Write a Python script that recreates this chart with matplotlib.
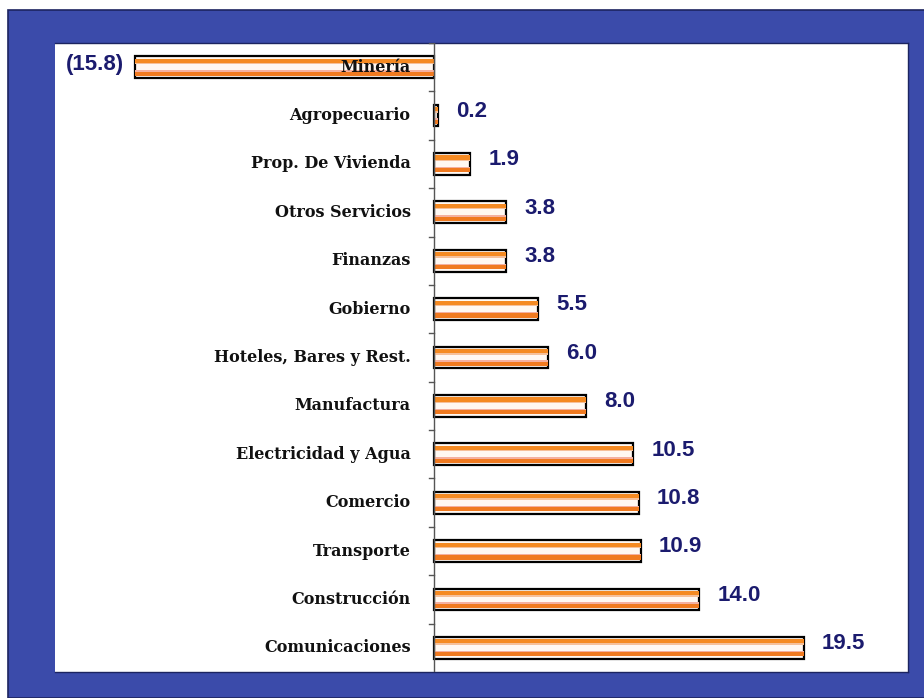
import matplotlib
matplotlib.use("Agg")
import matplotlib.pyplot as plt
from matplotlib.patches import Rectangle

# sector growth (%), top to bottom as drawn
sectors = ["Minería", "Agropecuario", "Prop. De Vivienda", "Otros Servicios",
           "Finanzas", "Gobierno", "Hoteles, Bares y Rest.", "Manufactura",
           "Electricidad y Agua", "Comercio", "Transporte", "Construcción",
           "Comunicaciones"]
values = [-15.8, 0.2, 1.9, 3.8, 3.8, 5.5, 6.0, 8.0, 10.5, 10.8, 10.9, 14.0, 19.5]

W, H = 924, 698
fig = plt.figure(figsize=(W / 100, H / 100), dpi=100)
fig.patch.set_facecolor("white")

# blue frame
fig.patches.append(Rectangle((8 / W, 0), 1, (H - 10) / H, transform=fig.transFigure,
                             facecolor="#3B4BAA", edgecolor="#1c2460", linewidth=1.2,
                             zorder=-5))

ax = fig.add_axes([55 / W, (H - 672) / H, (908 - 55) / W, (672 - 43) / H])
ax.set_zorder(2)
ax.set_facecolor("white")
for s in ax.spines.values():
    s.set_edgecolor("#1c2460")
    s.set_linewidth(1.0)

ypos = list(range(len(sectors)))
bh = 0.45

ax.barh(ypos, values, height=bh, color="#fff8f2", edgecolor="black",
        linewidth=1.6, zorder=2)
ax.barh([y - 0.13 for y in ypos], values, height=0.09, color="#f58a22",
        linewidth=0, zorder=2.1)
ax.barh([y + 0.13 for y in ypos], values, height=0.09, color="#f07a20",
        linewidth=0, zorder=2.1)
ax.barh([y - 0.075 for y in ypos], values, height=0.03, color="#f6c09a",
        linewidth=0, zorder=2.1)
ax.barh([y + 0.075 for y in ypos], values, height=0.03, color="#f4b0a0",
        linewidth=0, zorder=2.1)

ax.set_xlim(-20.0, 25.0)
ax.set_ylim(len(sectors) - 0.5, -0.5)

# zero axis with category labels
ax.spines["left"].set_visible(False)
ax.axvline(0, color="#555555", linewidth=1.0, zorder=3)
ax.set_xticks([])
ax.set_yticks([])
for y, name in zip(ypos, sectors):
    ax.annotate(name, (0, y), xytext=(-17, 0), textcoords="offset points",
                ha="right", va="center", fontsize=11.5, fontweight="bold",
                family="DejaVu Serif", color="#111111", zorder=4)
for y in [p + 0.5 for p in ypos[:-1]] + [-0.5]:
    ax.plot([-0.25, 0], [y, y], color="#555555", linewidth=1.0, zorder=3)

# value labels
for y, v in zip(ypos, values):
    if v < 0:
        ax.annotate(f"({abs(v):.1f})", (v, y), xytext=(-8, 2),
                    textcoords="offset points", ha="right", va="center",
                    fontsize=16, fontweight="bold", family="Liberation Sans",
                    color="#1b1b6e")
    else:
        ax.annotate(f"{v:.1f}", (v, y), xytext=(13, 3),
                    textcoords="offset points", ha="left", va="center",
                    fontsize=16, fontweight="bold", family="Liberation Sans",
                    color="#1b1b6e")

fig.savefig("out.png", dpi=100)
